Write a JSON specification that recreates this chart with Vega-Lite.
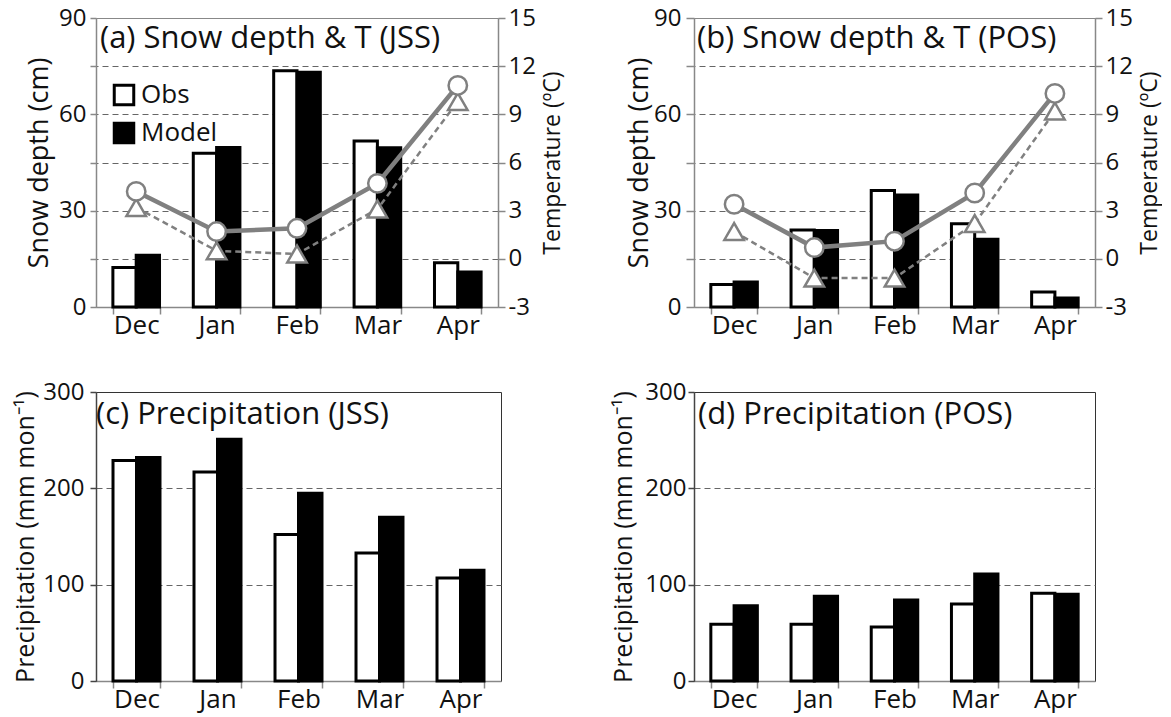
{
  "$schema": "https://vega.github.io/schema/vega-lite/v6.json",
  "background": "white",
  "padding": {"left": 13, "top": 5, "right": 0, "bottom": 0},
  "datasets": {
    "d": [
      {"site":"JSS","month":"Dec","mi":1,"series":"Obs","snow":12.3,"temp":4.2,"precip":229},
      {"site":"JSS","month":"Dec","mi":1,"series":"Model","snow":16.1,"temp":3.2,"precip":232},
      {"site":"JSS","month":"Jan","mi":2,"series":"Obs","snow":47.9,"temp":1.7,"precip":217},
      {"site":"JSS","month":"Jan","mi":2,"series":"Model","snow":49.7,"temp":0.5,"precip":251},
      {"site":"JSS","month":"Feb","mi":3,"series":"Obs","snow":73.6,"temp":1.9,"precip":152},
      {"site":"JSS","month":"Feb","mi":3,"series":"Model","snow":73.1,"temp":0.3,"precip":195},
      {"site":"JSS","month":"Mar","mi":4,"series":"Obs","snow":51.7,"temp":4.7,"precip":133},
      {"site":"JSS","month":"Mar","mi":4,"series":"Model","snow":49.6,"temp":3.1,"precip":170},
      {"site":"JSS","month":"Apr","mi":5,"series":"Obs","snow":13.8,"temp":10.8,"precip":107},
      {"site":"JSS","month":"Apr","mi":5,"series":"Model","snow":10.9,"temp":9.8,"precip":115},
      {"site":"POS","month":"Dec","mi":1,"series":"Obs","snow":7.0,"temp":3.4,"precip":59},
      {"site":"POS","month":"Dec","mi":1,"series":"Model","snow":7.8,"temp":1.7,"precip":78},
      {"site":"POS","month":"Jan","mi":2,"series":"Obs","snow":24.0,"temp":0.7,"precip":59},
      {"site":"POS","month":"Jan","mi":2,"series":"Model","snow":23.8,"temp":-1.2,"precip":88},
      {"site":"POS","month":"Feb","mi":3,"series":"Obs","snow":36.3,"temp":1.1,"precip":56},
      {"site":"POS","month":"Feb","mi":3,"series":"Model","snow":34.9,"temp":-1.2,"precip":84},
      {"site":"POS","month":"Mar","mi":4,"series":"Obs","snow":25.9,"temp":4.1,"precip":80},
      {"site":"POS","month":"Mar","mi":4,"series":"Model","snow":21.1,"temp":2.2,"precip":111},
      {"site":"POS","month":"Apr","mi":5,"series":"Obs","snow":4.7,"temp":10.3,"precip":91},
      {"site":"POS","month":"Apr","mi":5,"series":"Model","snow":2.8,"temp":9.2,"precip":90}
    ]
  },
  "data": {"name": "d"},
  "columns": 2,
  "spacing": {"row": 85, "column": 193},
  "bounds": "flush",
  "concat": [
    {
      "width": 402, "height": 289,
      "view": {"stroke": "#888"},
      "title": {"text": "(a) Snow depth & T (JSS)", "anchor": "start", "frame": "group", "baseline": "alphabetic", "offset": 0, "dy": 73, "dx": 4},
      "transform": [{"filter": "datum.site == 'JSS'"}],
      "encoding": {
        "x": {"field": "month", "type": "nominal", "sort": ["Dec","Jan","Feb","Mar","Apr"],
              "scale": {"paddingInner": 0.42, "paddingOuter": 0.21},
              "axis": {"title": null, "tickBand": "extent", "tickSize": 7, "labelAngle": 0, "labelPadding": -2}}
      },
      "layer": [
        {
          "mark": {"type": "bar", "stroke": "black", "strokeWidth": 3},
          "encoding": {
            "xOffset": {"field": "series", "type": "nominal", "sort": ["Obs","Model"], "scale": {"paddingInner": 0, "paddingOuter": 0}},
            "y": {"field": "snow", "type": "quantitative", "scale": {"domain": [0, 90], "nice": false},
                  "axis": {"orient": "left", "values": [0,15,30,45,60,75,90], "labelExpr": "datum.value % 30 == 0 ? datum.label : ''",
                           "title": "Snow depth (cm)", "titleFontSize": 27, "tickSize": 6, "labelPadding": 4, "titlePadding": 5}},
            "fill": {"field": "series", "type": "nominal", "sort": ["Obs","Model"],
                     "scale": {"domain": ["Obs","Model"], "range": ["white","black"]},
                     "legend": {"orient": "none", "legendX": 15, "legendY": 64, "title": null, "padding": 0,
                                "symbolType": "square", "symbolSize": 380, "symbolStrokeColor": "black", "symbolStrokeWidth": 3,
                                "labelFont": "Open Sans", "labelFontSize": 26, "labelColor": "#111", "labelOffset": 4, "rowPadding": 6}}
          }
        },
        {
          "encoding": {
            "y": {"field": "temp", "type": "quantitative", "scale": {"domain": [-3, 15], "nice": false},
                  "axis": {"orient": "right", "values": [-3,0,3,6,9,12,15], "labelExpr": "'' + datum.value",
                           "title": "Temperature (ºC)", "titleFontSize": 23, "titleAngle": 270, "titleBaseline": "top", "tickSize": 7, "labelPadding": 3, "titlePadding": 6,
                           "grid": true, "gridDash": [6,4], "gridColor": "#666", "gridWidth": 1.2,
                           "gridOpacity": {"condition": {"test": "datum.value == -3 || datum.value == 15", "value": 0}, "value": 1}}},
            "order": {"field": "mi", "type": "quantitative"}
          },
          "layer": [
            {"transform": [{"filter": "datum.series == 'Model'"}], "mark": {"type": "line", "stroke": "#808080", "strokeWidth": 2.5, "strokeDash": [6,4]}},
            {"transform": [{"filter": "datum.series == 'Model'"}], "mark": {"type": "point", "shape": "triangle-up", "size": 380, "filled": true, "fill": "white", "stroke": "#808080", "strokeWidth": 2.5, "opacity": 1}},
            {"transform": [{"filter": "datum.series == 'Obs'"}], "mark": {"type": "line", "stroke": "#808080", "strokeWidth": 4.5}},
            {"transform": [{"filter": "datum.series == 'Obs'"}], "mark": {"type": "point", "shape": "circle", "size": 340, "filled": true, "fill": "white", "stroke": "#808080", "strokeWidth": 2.5, "opacity": 1}}
          ]
        }
      ],
      "resolve": {"scale": {"y": "independent"}}
    },
    {
      "width": 401, "height": 289,
      "view": {"stroke": "#888"},
      "title": {"text": "(b) Snow depth & T (POS)", "anchor": "start", "frame": "group", "baseline": "alphabetic", "offset": 0, "dy": 73, "dx": 3},
      "transform": [{"filter": "datum.site == 'POS'"}],
      "encoding": {
        "x": {"field": "month", "type": "nominal", "sort": ["Dec","Jan","Feb","Mar","Apr"],
              "scale": {"paddingInner": 0.42, "paddingOuter": 0.21},
              "axis": {"title": null, "tickBand": "extent", "tickSize": 7, "labelAngle": 0, "labelPadding": -2}}
      },
      "layer": [
        {
          "mark": {"type": "bar", "stroke": "black", "strokeWidth": 3},
          "encoding": {
            "xOffset": {"field": "series", "type": "nominal", "sort": ["Obs","Model"], "scale": {"paddingInner": 0, "paddingOuter": 0}},
            "y": {"field": "snow", "type": "quantitative", "scale": {"domain": [0, 90], "nice": false},
                  "axis": {"orient": "left", "values": [0,15,30,45,60,75,90], "labelExpr": "datum.value % 30 == 0 ? datum.label : ''",
                           "title": "Snow depth (cm)", "titleFontSize": 27, "tickSize": 8, "labelPadding": 5, "titlePadding": 0}},
            "fill": {"field": "series", "type": "nominal", "sort": ["Obs","Model"],
                     "scale": {"domain": ["Obs","Model"], "range": ["white","black"]}, "legend": null}
          }
        },
        {
          "encoding": {
            "y": {"field": "temp", "type": "quantitative", "scale": {"domain": [-3, 15], "nice": false},
                  "axis": {"orient": "right", "values": [-3,0,3,6,9,12,15], "labelExpr": "'' + datum.value",
                           "title": "Temperature (ºC)", "titleFontSize": 23, "titleAngle": 270, "titleBaseline": "top", "tickSize": 7, "labelPadding": 3, "titlePadding": 6,
                           "grid": true, "gridDash": [6,4], "gridColor": "#666", "gridWidth": 1.2,
                           "gridOpacity": {"condition": {"test": "datum.value == -3 || datum.value == 15", "value": 0}, "value": 1}}},
            "order": {"field": "mi", "type": "quantitative"}
          },
          "layer": [
            {"transform": [{"filter": "datum.series == 'Model'"}], "mark": {"type": "line", "stroke": "#808080", "strokeWidth": 2.5, "strokeDash": [6,4]}},
            {"transform": [{"filter": "datum.series == 'Model'"}], "mark": {"type": "point", "shape": "triangle-up", "size": 380, "filled": true, "fill": "white", "stroke": "#808080", "strokeWidth": 2.5, "opacity": 1}},
            {"transform": [{"filter": "datum.series == 'Obs'"}], "mark": {"type": "line", "stroke": "#808080", "strokeWidth": 4.5}},
            {"transform": [{"filter": "datum.series == 'Obs'"}], "mark": {"type": "point", "shape": "circle", "size": 340, "filled": true, "fill": "white", "stroke": "#808080", "strokeWidth": 2.5, "opacity": 1}}
          ]
        }
      ],
      "resolve": {"scale": {"y": "independent"}}
    },
    {
      "width": 405, "height": 289,
      "view": {"stroke": "#333"},
      "title": {"text": "(c) Precipitation  (JSS)", "anchor": "start", "frame": "group", "baseline": "alphabetic", "offset": 0, "dy": 75, "dx": 0},
      "transform": [{"filter": "datum.site == 'JSS'"}],
      "mark": {"type": "bar", "stroke": "black", "strokeWidth": 3},
      "encoding": {
        "x": {"field": "month", "type": "nominal", "sort": ["Dec","Jan","Feb","Mar","Apr"],
              "scale": {"paddingInner": 0.42, "paddingOuter": 0.21},
              "axis": {"title": null, "tickBand": "extent", "tickSize": 7, "labelAngle": 0, "labelPadding": -2}},
        "xOffset": {"field": "series", "type": "nominal", "sort": ["Obs","Model"], "scale": {"paddingInner": 0, "paddingOuter": 0}},
        "y": {"field": "precip", "type": "quantitative", "scale": {"domain": [0, 300], "nice": false},
              "axis": {"values": [0,100,200,300], "title": "Precipitation (mm mon⁻¹)", "titleFontSize": 25, "tickSize": 6, "labelPadding": 6, "titlePadding": 4,
                       "domainColor": "#444", "tickColor": "#444",
                       "grid": true, "gridDash": [6,4], "gridColor": "#666", "gridWidth": 1.2,
                       "gridOpacity": {"condition": {"test": "datum.value == 0 || datum.value == 300", "value": 0}, "value": 1}}},
        "fill": {"field": "series", "type": "nominal", "sort": ["Obs","Model"],
                 "scale": {"domain": ["Obs","Model"], "range": ["white","black"]}, "legend": null}
      }
    },
    {
      "width": 401, "height": 289,
      "view": {"stroke": "#333"},
      "title": {"text": "(d) Precipitation  (POS)", "anchor": "start", "frame": "group", "baseline": "alphabetic", "offset": 0, "dy": 75, "dx": 4},
      "transform": [{"filter": "datum.site == 'POS'"}],
      "mark": {"type": "bar", "stroke": "black", "strokeWidth": 3},
      "encoding": {
        "x": {"field": "month", "type": "nominal", "sort": ["Dec","Jan","Feb","Mar","Apr"],
              "scale": {"paddingInner": 0.42, "paddingOuter": 0.21},
              "axis": {"title": null, "tickBand": "extent", "tickSize": 7, "labelAngle": 0, "labelPadding": -2}},
        "xOffset": {"field": "series", "type": "nominal", "sort": ["Obs","Model"], "scale": {"paddingInner": 0, "paddingOuter": 0}},
        "y": {"field": "precip", "type": "quantitative", "scale": {"domain": [0, 300], "nice": false},
              "axis": {"values": [0,100,200,300], "title": "Precipitation (mm mon⁻¹)", "titleFontSize": 25, "tickSize": 6, "labelPadding": 2, "titlePadding": 8,
                       "domainColor": "#444", "tickColor": "#444",
                       "grid": true, "gridDash": [6,4], "gridColor": "#666", "gridWidth": 1.2,
                       "gridOpacity": {"condition": {"test": "datum.value == 0 || datum.value == 300", "value": 0}, "value": 1}}},
        "fill": {"field": "series", "type": "nominal", "sort": ["Obs","Model"],
                 "scale": {"domain": ["Obs","Model"], "range": ["white","black"]}, "legend": null}
      }
    }
  ],
  "resolve": {"scale": {"x": "independent", "y": "independent", "xOffset": "independent", "fill": "independent"}, "legend": {"fill": "independent"}},
  "config": {
    "font": "Open Sans",
    "axisY": {"labelFontSize": 24},
    "axisX": {"labelFontSize": 26},
    "axis": {"labelFont": "Open Sans", "labelColor": "#111", "titleFont": "Open Sans", "titleFontSize": 26,
             "titleFontWeight": "normal", "titleColor": "#111", "domainColor": "#888", "tickColor": "#888",
             "domainWidth": 1.5, "tickWidth": 1.5, "grid": false},
    "title": {"font": "Open Sans", "fontSize": 31, "fontWeight": "normal", "color": "#111"}
  }
}
